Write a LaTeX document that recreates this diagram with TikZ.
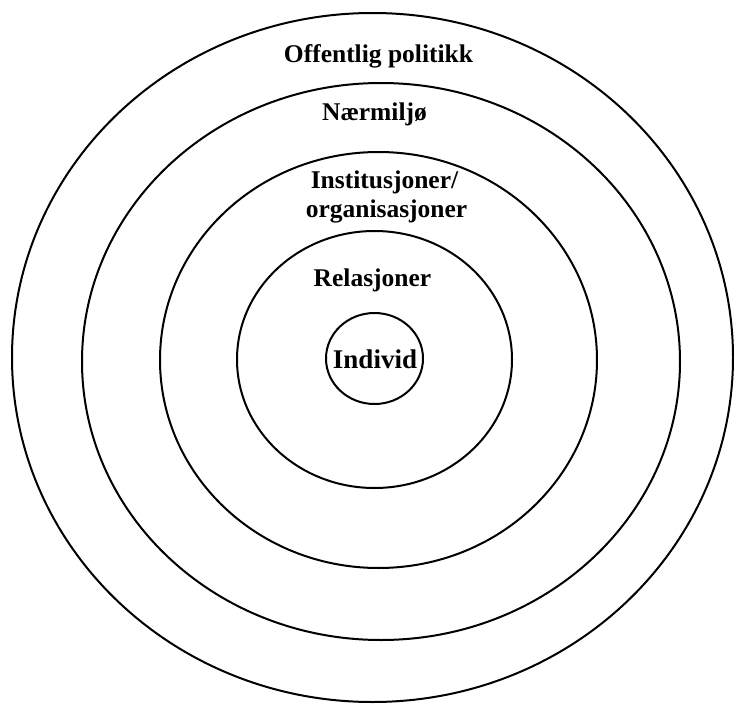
\documentclass[tikz,border=0pt]{standalone}
\usepackage{fontspec}
\setmainfont{Liberation Serif}
\begin{document}
\begin{tikzpicture}[x=1pt,y=-1pt,
  ring/.style={draw=black,line width=2pt},
  lbl/.style={font=\fontsize{25.5}{29}\selectfont\bfseries,inner sep=0pt,anchor=base,text=black}]
\useasboundingbox (0,0) rectangle (734,704);
\fill[white] (0,0) rectangle (734,704);
\draw[ring] (372.5,357.5) ellipse [x radius=360.5, y radius=344.5];
\draw[ring] (381,361.5) ellipse [x radius=299, y radius=278.5];
\draw[ring] (378.5,360) ellipse [x radius=218.5, y radius=208];
\draw[ring] (374.5,359.5) ellipse [x radius=137.5, y radius=128.5];
\draw[ring] (374.5,358.5) ellipse [x radius=48.5, y radius=45.5];
\node[lbl] (off) at (378.5,62) {Offentlig politikk};
\node[lbl] (naer) at (374.5,120) {Nærmiljø};
\node[lbl] (inst) at (384.5,188) {Institusjoner/};
\node[lbl] (org) at (386.5,217) {organisasjoner};
\node[lbl] (rel) at (372.5,286) {Relasjoner};
\node[lbl,font=\fontsize{27}{30}\selectfont\bfseries] (ind) at (375,368) {Individ};
\end{tikzpicture}
\end{document}
